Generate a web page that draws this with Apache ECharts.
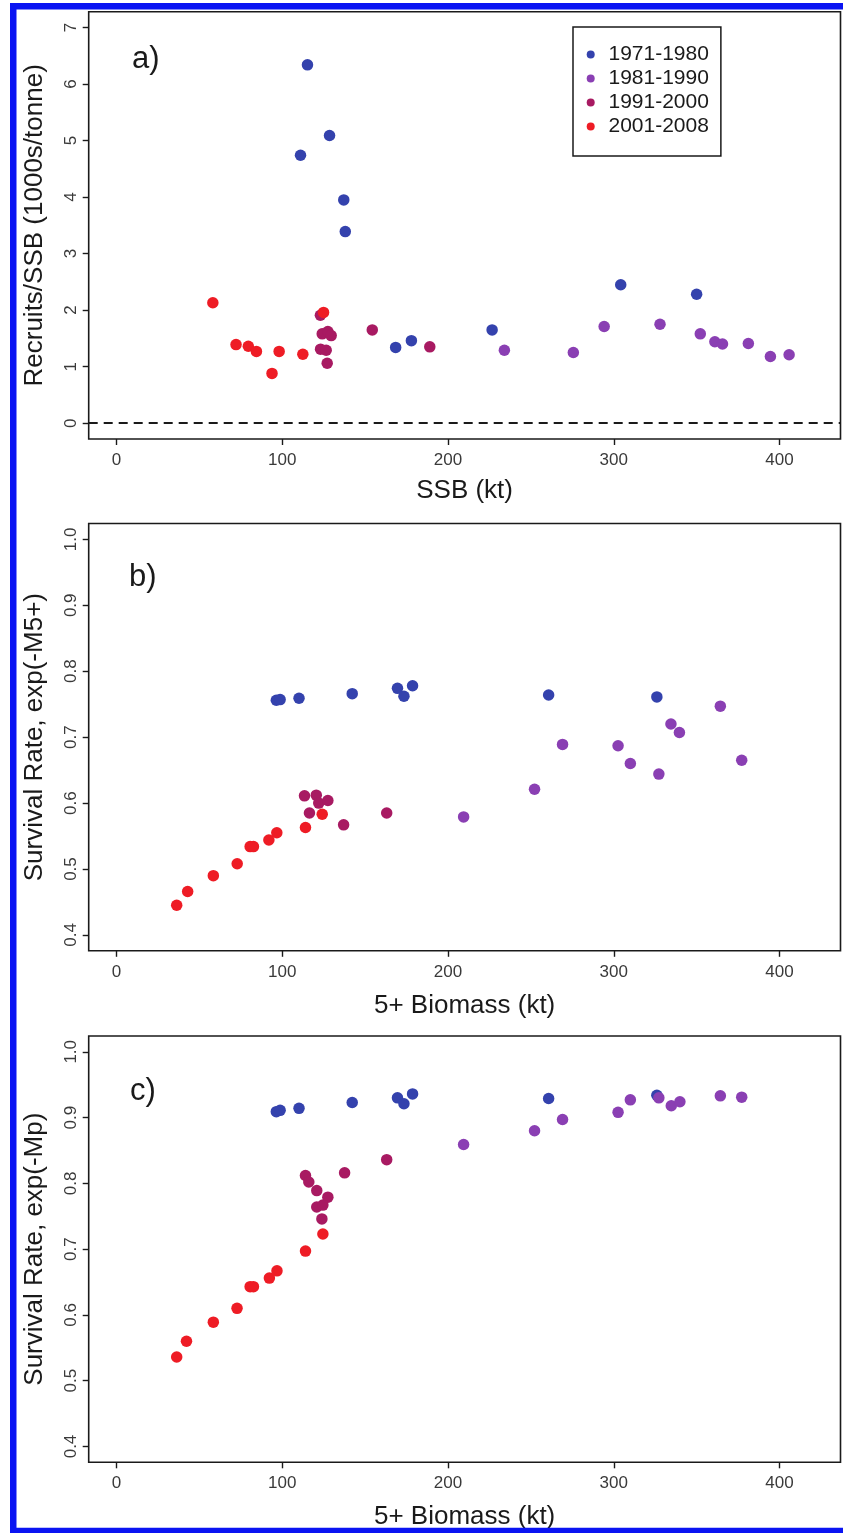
<!DOCTYPE html>
<html>
<head>
<meta charset="utf-8">
<title>Recruitment and survival vs biomass</title>
<script src="https://cdn.jsdelivr.net/npm/echarts@6/dist/echarts.min.js"></script>
<style>
  html, body { margin: 0; padding: 0; background: #ffffff; }
  #chart { width: 843px; height: 1533px; }
</style>
</head>
<body>
<div id="chart"></div>
<script>
// Decade groups shown in the legend
const decades = ['1971-1980', '1981-1990', '1991-2000', '2001-2008'];
const decadeColors = ['#3442ad', '#8a3fb3', '#a81a62', '#ee1c25'];

// Axis tick values
const xTicks = [0, 100, 200, 300, 400];
const yTicksA = [0, 1, 2, 3, 4, 5, 6, 7];
const yTicksBC = [0.4, 0.5, 0.6, 0.7, 0.8, 0.9, 1.0];

// a) Recruits/SSB against SSB (kt)
const recA1971 = [[115.2, 6.34], [111, 4.74], [128.5, 5.09], [137.1, 3.95], [138, 3.39],
  [168.4, 1.34], [177.9, 1.46], [226.6, 1.65], [304.2, 2.45], [350, 2.28]];
const recA1981 = [[234, 1.29], [275.6, 1.25], [294.2, 1.71], [327.9, 1.75], [352.2, 1.58],
  [361, 1.44], [365.6, 1.40], [381.2, 1.41], [394.5, 1.18], [405.8, 1.21]];
const recA1991 = [[123, 1.91], [124.1, 1.58], [127.5, 1.62], [129.5, 1.55], [123.1, 1.31],
  [126.5, 1.29], [127.1, 1.06], [154.3, 1.65], [189, 1.35]];
const recA2001 = [[58.1, 2.13], [72.1, 1.39], [79.5, 1.36], [84.4, 1.27], [98.1, 1.27],
  [93.8, 0.88], [112.4, 1.22], [124.9, 1.96]];

// b) Survival rate exp(-M5+) against 5+ biomass (kt)
const survB1971 = [[96.4, 0.756], [98.7, 0.757], [110.1, 0.759], [142.2, 0.766], [169.5, 0.774],
  [173.4, 0.762], [178.6, 0.778], [260.7, 0.764], [326, 0.761]];
const survB1981 = [[209.4, 0.579], [252.2, 0.621], [269.1, 0.689], [302.6, 0.687], [310, 0.660],
  [327.2, 0.644], [334.5, 0.720], [339.6, 0.707], [364.3, 0.747], [377.2, 0.665]];
const survB1991 = [[113.4, 0.611], [120.5, 0.612], [122, 0.600], [127.5, 0.604], [116.4, 0.585],
  [137, 0.567], [163, 0.585]];
const survB2001 = [[36.3, 0.445], [42.9, 0.466], [58.4, 0.490], [72.8, 0.508], [80.6, 0.534],
  [82.6, 0.534], [91.9, 0.544], [96.7, 0.555], [114, 0.563], [124.1, 0.583]];

// c) Survival rate exp(-Mp) against 5+ biomass (kt)
const survC1971 = [[96.4, 0.909], [98.7, 0.911], [110.1, 0.914], [142.2, 0.923], [169.5, 0.930],
  [173.4, 0.921], [178.6, 0.936], [260.7, 0.929], [326, 0.934]];
const survC1981 = [[209.4, 0.859], [252.2, 0.880], [269.1, 0.897], [302.6, 0.908], [310, 0.927],
  [327.2, 0.930], [334.7, 0.918], [339.9, 0.924], [364.3, 0.933], [377.2, 0.931]];
const survC1991 = [[114, 0.812], [116, 0.802], [120.8, 0.789], [127.5, 0.779], [120.8, 0.764],
  [124.5, 0.767], [123.9, 0.746], [137.6, 0.816], [163, 0.836]];
const survC2001 = [[36.3, 0.536], [42.2, 0.560], [58.4, 0.589], [72.7, 0.610], [80.6, 0.643],
  [82.6, 0.643], [92.2, 0.656], [96.8, 0.667], [114, 0.697], [124.5, 0.723]];

const FONT = '"Liberation Sans", Arial, Helvetica, sans-serif';
const INK = '#1a1a1a';

const panels = [
  { top: 11.7, height: 427.3, xName: 'SSB (kt)', xGap: 39, yName: 'Recruits/SSB (1000s/tonne)',
    yMin: -0.28, yMax: 7.28, yTicks: yTicksA, fmt: v => String(v),
    groups: [recA1971, recA1981, recA1991, recA2001] },
  { top: 523.5, height: 427.3, xName: '5+ Biomass (kt)', xGap: 42, yName: 'Survival Rate, exp(-M5+)',
    yMin: 0.376, yMax: 1.024, yTicks: yTicksBC, fmt: v => v.toFixed(1),
    groups: [survB1971, survB1981, survB1991, survB2001] },
  { top: 1036, height: 426.3, xName: '5+ Biomass (kt)', xGap: 42, yName: 'Survival Rate, exp(-Mp)',
    yMin: 0.376, yMax: 1.024, yTicks: yTicksBC, fmt: v => v.toFixed(1),
    groups: [survC1971, survC1981, survC1991, survC2001] }
];

const grids = [], xAxes = [], yAxes = [], series = [];
panels.forEach((p, i) => {
  grids.push({
    left: 88.7, top: p.top, width: 751.8, height: p.height,
    show: true, borderColor: INK, borderWidth: 1.6, backgroundColor: 'transparent',
    containLabel: false, outerBoundsMode: 'none'
  });
  xAxes.push({
    type: 'value', gridIndex: i, min: -16.8, max: 436.8, position: 'bottom',
    axisLine: { show: false, onZero: false },
    axisTick: { show: true, customValues: xTicks, length: 6, lineStyle: { color: INK, width: 1.4 } },
    axisLabel: { customValues: xTicks, margin: 13, fontSize: 17, color: '#3a3a3a', fontFamily: FONT },
    splitLine: { show: false },
    name: p.xName, nameLocation: 'middle', nameGap: p.xGap,
    nameTextStyle: { fontSize: 26, color: INK, fontFamily: FONT }
  });
  yAxes.push({
    type: 'value', gridIndex: i, min: p.yMin, max: p.yMax, position: 'left',
    axisLine: { show: false, onZero: false },
    axisTick: { show: true, customValues: p.yTicks, length: 6, lineStyle: { color: INK, width: 1.4 } },
    axisLabel: { customValues: p.yTicks, rotate: 90, margin: 9, fontSize: 17, color: '#3a3a3a',
      fontFamily: FONT, formatter: p.fmt },
    splitLine: { show: false },
    name: p.yName, nameLocation: 'middle', nameGap: 41, nameRotate: 90,
    nameTextStyle: { fontSize: 26, color: INK, fontFamily: FONT }
  });
  p.groups.forEach((pts, g) => {
    const s = {
      name: decades[g], type: 'scatter', xAxisIndex: i, yAxisIndex: i,
      data: pts, symbol: 'circle', symbolSize: 11.5,
      itemStyle: { color: decadeColors[g], opacity: 1 },
      emphasis: { disabled: true }, z: 2 + g
    };
    // dashed reference line at zero in the recruitment panel
    if (i === 0 && g === 0) {
      s.markLine = {
        silent: true, symbol: ['none', 'none'], label: { show: false },
        lineStyle: { type: [9, 6], color: INK, width: 2 },
        data: [{ yAxis: 0 }]
      };
    }
    series.push(s);
  });
});

const chart = echarts.init(document.getElementById('chart'), null, { renderer: 'canvas' });
chart.setOption({
  animation: false,
  backgroundColor: '#ffffff',
  grid: grids,
  xAxis: xAxes,
  yAxis: yAxes,
  series: series,
  legend: {
    data: decades, orient: 'vertical', left: 573, top: 27,
    icon: 'circle', itemWidth: 25.5, itemHeight: 8, itemGap: 3,
    padding: [17, 12, 19, 13.7],
    borderColor: INK, borderWidth: 1.5, backgroundColor: '#ffffff',
    textStyle: { fontSize: 21, lineHeight: 21, color: INK, fontFamily: FONT },
    selectedMode: false
  },
  graphic: [
    { type: 'text', left: 132, top: 44, style: { text: 'a)', font: '31px ' + FONT, fill: INK } },
    { type: 'text', left: 129, top: 562, style: { text: 'b)', font: '31px ' + FONT, fill: INK } },
    { type: 'text', left: 130, top: 1076, style: { text: 'c)', font: '31px ' + FONT, fill: INK } },
    // page frame
    { type: 'rect', left: 10, top: 3, z: 100, silent: true,
      shape: { x: 0, y: 0, width: 900, height: 1524.75 },
      style: { fill: 'none', stroke: '#0a14f2', lineWidth: 6.5 },
      position: [13.25, 6.25] }
  ]
});
</script>
</body>
</html>
